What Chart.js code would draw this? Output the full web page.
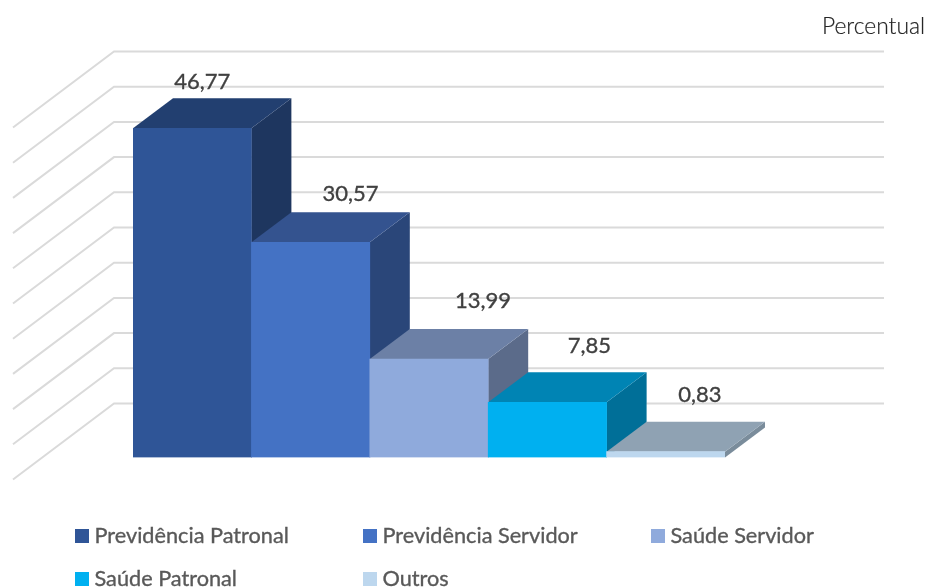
<!DOCTYPE html>
<html>
<head>
<meta charset="utf-8">
<style>html,body{margin:0;padding:0;background:#fff;overflow:hidden}canvas{display:block}</style>
<script src="https://cdn.jsdelivr.net/npm/chart.js@4"></script>
</head>
<body>
<canvas id="c" width="925" height="588"></canvas>
<script>
const categories = ["Previdência Patronal","Previdência Servidor","Saúde Servidor","Saúde Patronal","Outros"];
const values = [46.77,30.57,13.99,7.85,0.83];
const valueLabels = ["46,77","30,57","13,99","7,85","0,83"];
const frontColors = ["#2F5597","#4472C4","#8FAADC","#00B0F0","#BDD7EE"];
const topColors = ["#223F70","#34538F","#6C80A6","#0084B4","#8FA2B3"];
const sideColors = ["#1E365F","#2A4679","#5B6B8A","#006F98","#7A8C9B"];
const unitLabel = "Percentual";

const DEPTH_X = 40, DEPTH_Y = 30;
const WALL_DX = -19, WALL_DY = -54, WALL_LEFT_RUN = 100, WALL_LEFT_DROP = 76, WALL_RIGHT = 884;
const labelShift = [[10,-16],[40,-18],[54,-28],[42,-26],[34,-27]];
const legendSlots = [[75,536],[363,536],[651,536],[75,579],[363,579]];
const FONT = "Lato, Carlito, 'Noto Sans', sans-serif";

function poly(ctx, pts, fill){
  ctx.beginPath();
  pts.forEach((p,i)=> i ? ctx.lineTo(p[0],p[1]) : ctx.moveTo(p[0],p[1]));
  ctx.closePath();
  ctx.fillStyle = fill;
  ctx.fill();
}
function label(ctx, text, x, y, color, weight){
  ctx.fillStyle = color;
  ctx.strokeStyle = color;
  ctx.lineWidth = weight;
  ctx.fillText(text, x, y);
  ctx.strokeText(text, x, y);
}

const scene3d = {
  id:'scene3d',
  beforeDatasetsDraw(chart){
    const ctx = chart.ctx, y = chart.scales.y, x0 = chart.chartArea.left + WALL_DX;
    ctx.save();
    ctx.strokeStyle = '#DADADA';
    ctx.lineWidth = 2;
    y.ticks.forEach(t=>{
      const py = y.getPixelForValue(t.value) + WALL_DY;
      ctx.beginPath();
      ctx.moveTo(x0 - WALL_LEFT_RUN - 1, py + WALL_LEFT_DROP);
      ctx.lineTo(x0, py);
      ctx.lineTo(WALL_RIGHT, py);
      ctx.stroke();
    });
    const meta = chart.getDatasetMeta(0);
    meta.data.forEach((b,i)=>{
      const l = b.x - b.width/2, r = b.x + b.width/2, t = b.y, bot = b.base;
      poly(ctx, [[r,t],[r+DEPTH_X,t-DEPTH_Y],[r+DEPTH_X,bot-DEPTH_Y],[r,bot]], sideColors[i]);
      poly(ctx, [[l,t],[l+DEPTH_X,t-DEPTH_Y],[r+DEPTH_X,t-DEPTH_Y],[r,t]], topColors[i]);
    });
    ctx.restore();
  },
  afterDatasetsDraw(chart){
    const ctx = chart.ctx, meta = chart.getDatasetMeta(0);
    ctx.save();
    ctx.textBaseline = 'middle';
    ctx.textAlign = 'center';
    ctx.font = "22px " + FONT;
    meta.data.forEach((b,i)=>{
      label(ctx, valueLabels[i], b.x + labelShift[i][0], b.y - DEPTH_Y + labelShift[i][1], '#404040', 0.35);
    });
    ctx.textAlign = 'right';
    ctx.font = "300 22.8px " + FONT;
    label(ctx, unitLabel, 925, 27, '#262626', 0.2);
    ctx.textAlign = 'left';
    ctx.font = "21.7px " + FONT;
    categories.forEach((c,i)=>{
      const s = legendSlots[i];
      ctx.fillStyle = frontColors[i];
      ctx.fillRect(s[0], s[1]-7, 14, 14);
      label(ctx, c, s[0]+19.5, s[1], '#595959', 0.35);
    });
    ctx.restore();
  }
};

new Chart(document.getElementById('c'),{
  type:'bar',
  data:{labels:categories,datasets:[{label:unitLabel,data:values,backgroundColor:frontColors,barPercentage:1,categoryPercentage:1,borderWidth:0}]},
  options:{
    responsive:false,animation:false,
    layout:{padding:{left:133,right:200,top:105.5,bottom:130.5}},
    plugins:{legend:{display:false},tooltip:{enabled:false},title:{display:false}},
    scales:{
      x:{display:false,grid:{display:false}},
      y:{display:false,min:0,max:50,ticks:{stepSize:5},grid:{display:false}}
    }
  },
  plugins:[scene3d]
});
</script>
</body>
</html>
